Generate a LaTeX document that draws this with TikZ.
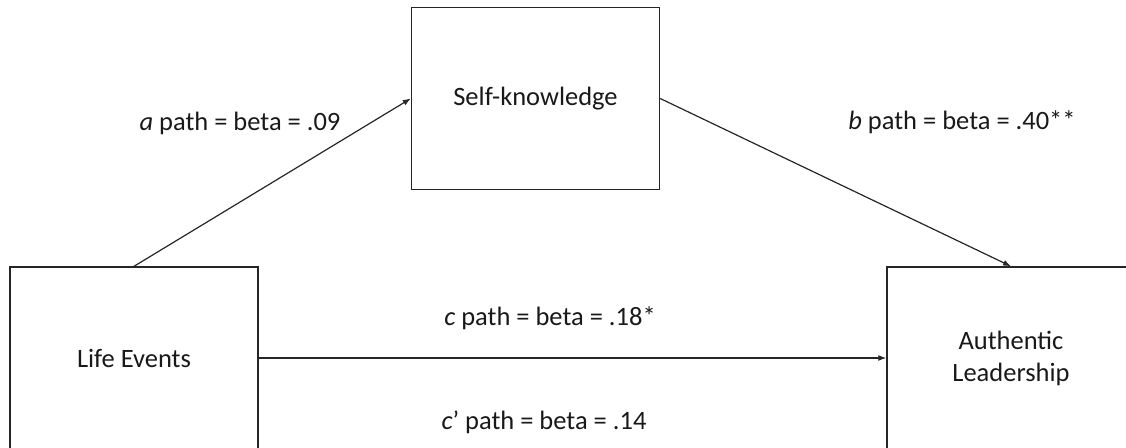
\documentclass[tikz,border=0pt]{standalone}
\usepackage{fontspec}
\setmainfont{Carlito}
\usetikzlibrary{arrows.meta}
\newcommand{\varbox}[3]{%
 \node[varbox] ({#1}) at ({#2}) {#3};%
}
\newcommand{\pathlabel}[3]{%
 \node[pathtext] ({#1}) at ({#2}) {#3};%
}
\tikzset{
 varbox/.style={draw=black!85,line width=1.4pt,minimum width=248pt,minimum height=182pt,align=center,inner sep=0pt},
 pathtext/.style={inner sep=0pt},
 effect/.style={draw=black!85,line width=1.2pt,-{Latex[length=8pt,width=6pt]}}
}

\begin{document}
\begin{tikzpicture}[x=1pt,y=-1pt,every node/.style={font=\fontsize{26.5}{32}\selectfont,text=black!90}]
   \useasboundingbox (0,0) rectangle (1126,447);
   \varbox{life}{134,358}{Life Events};
   \varbox{self}{535.5,98.5}{Self-knowledge};
   \varbox{auth}{1011,358}{Authentic\\Leadership};
   \pathlabel{la}{240,123}{\textit{a} path = beta = .09};
   \pathlabel{lb}{962,122}{\textit{b} path = beta = .40**};
   \pathlabel{lc}{550,318}{\textit{c} path = beta = .18*};
   \pathlabel{lcc}{544,422}{\textit{c}’ path = beta = .14};
   \draw[effect] (life.north) -- (self.west);
   \draw[effect] (self.east) -- (auth.north);
   \draw[effect] (life.east) -- (auth.west);
\end{tikzpicture}
\end{document}
